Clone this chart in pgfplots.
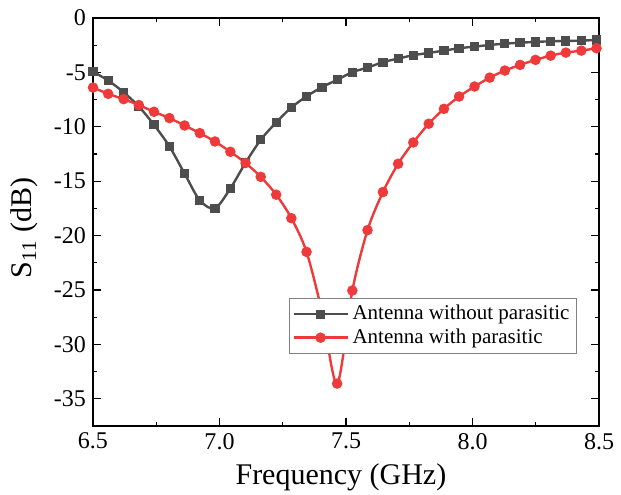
\documentclass[border=0pt]{standalone}
\usepackage{fontspec}
\setmainfont{Liberation Serif}
\newcommand{\T}[1]{\mbox{\rmfamily\fontsize{12}{14}\selectfont #1}}
\usepackage{pgfplots}
\pgfplotsset{compat=1.18}
\usetikzlibrary{calc}
\definecolor{dgray}{RGB}{77,77,77}
\definecolor{sred}{RGB}{238,58,58}
\begin{document}
\begin{tikzpicture}
\begin{axis}[
 width=253pt, height=204pt, scale only axis,
 xmin=6.5, xmax=8.5, ymin=-37.5, ymax=0,
 xtick={6.5,7,7.5,8,8.5}, minor x tick num=1,
 xticklabels={\T{6.5},\T{7.0},\T{7.5},\T{8.0},\T{8.5}},
 ytick={-35,-30,-25,-20,-15,-10,-5,0}, minor y tick num=1,
 yticklabels={\T{-35},\T{-30},\T{-25},\T{-20},\T{-15},\T{-10},\T{-5},\T{0}},
 tick align=inside, major tick length=4pt, minor tick length=2pt,
 axis line style={line width=0.75pt},
 every tick/.style={line width=0.6pt, black},
 ticklabel style={font=\fontsize{12}{14}\selectfont},
 xlabel={Frequency (GHz)},
 ylabel={S\textsubscript{11} (dB)},
 label style={font=\fontsize{15}{18}\selectfont},
 xlabel style={at={(axis description cs:0.49,-0.125)}, anchor=center},
 ylabel style={at={(axis description cs:-0.135,0.485)}, anchor=center},
 legend style={at={(axis description cs:0.9565,0.1765)}, anchor=south east,
   draw=gray, line width=0.5pt, font=\fontsize{10.5}{12}\selectfont,
   cells={anchor=west}, inner sep=1.5pt, row sep=-1pt},
 legend image code/.code={\draw[mark repeat=2,mark phase=2] plot coordinates {(0cm,0cm) (0.47cm,0cm) (0.94cm,0cm)};},
]
\addplot[dgray, line width=1.2pt, smooth, tension=0.5, mark=square*, mark size=1.7pt, mark options={solid, fill=dgray}] coordinates {
(6.500,-4.93) (6.560,-5.75) (6.621,-6.82) (6.681,-8.13) (6.741,-9.82)
(6.802,-11.8) (6.862,-14.3) (6.922,-16.76) (6.982,-17.5) (7.043,-15.66)
(7.103,-13.3) (7.163,-11.2) (7.224,-9.6) (7.284,-8.23) (7.344,-7.2)
(7.405,-6.36) (7.465,-5.68) (7.525,-4.98) (7.585,-4.56) (7.646,-4.06)
(7.706,-3.73) (7.766,-3.42) (7.827,-3.21) (7.887,-3.0) (7.947,-2.78)
(8.008,-2.63) (8.068,-2.48) (8.128,-2.36) (8.188,-2.27) (8.249,-2.2)
(8.309,-2.14) (8.369,-2.11) (8.430,-2.08) (8.490,-2.02)
};
\addlegendentry{Antenna without parasitic}
\addplot[sred, line width=1.2pt, smooth, tension=0.5, mark=*, mark size=2pt, mark options={solid, fill=sred}] coordinates {
(6.500,-6.39) (6.560,-6.97) (6.621,-7.46) (6.681,-8.0) (6.741,-8.62)
(6.802,-9.2) (6.862,-9.88) (6.922,-10.58) (6.982,-11.35) (7.043,-12.3)
(7.103,-13.33) (7.163,-14.6) (7.224,-16.24) (7.284,-18.4) (7.344,-21.5)
(7.405,-27.0) (7.465,-33.6) (7.525,-25.05) (7.585,-19.5) (7.646,-16.0)
(7.706,-13.4) (7.766,-11.44) (7.827,-9.72) (7.887,-8.35) (7.947,-7.22)
(8.008,-6.3) (8.068,-5.48) (8.128,-4.83) (8.188,-4.31) (8.249,-3.85)
(8.309,-3.46) (8.369,-3.18) (8.430,-3.0) (8.490,-2.78)
};
\addlegendentry{Antenna with parasitic}
\end{axis}
\pgfresetboundingbox
\path[use as bounding box] ($(current axis.south west)+(-46.5pt,-34.5pt)$) rectangle ($(current axis.north east)+(11pt,9pt)$);
\end{tikzpicture}
\end{document}
